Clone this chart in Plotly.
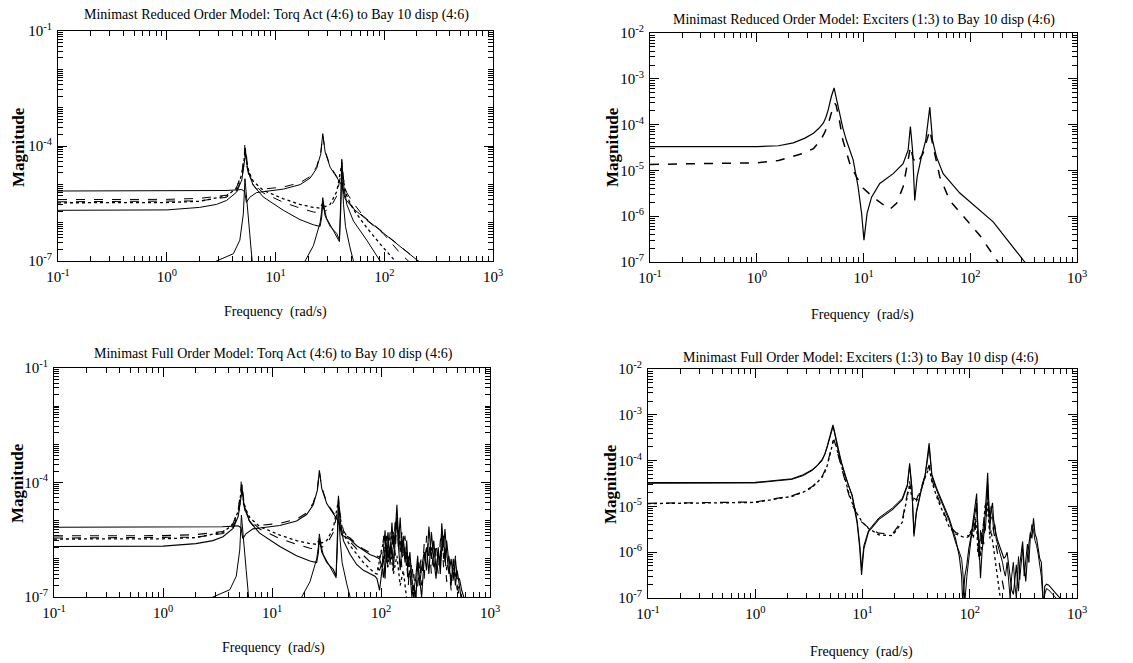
import plotly.graph_objects as go

W, H = 1133, 663

# ---------------- Torque actuator -> Bay 10 displacement (low-frequency part, both models) ----
s1_low_f = [0.1, 1.0, 3.5, 4.9, 5.2, 5.4, 5.8, 6.7, 8.3, 11.8, 16.8, 20.8, 23.9, 26.1, 27.2, 28.6, 31.8, 36.6, 40.7, 43.7]
s1_low_m = [6.7e-6, 6.7e-6, 6.9e-6, 7.3e-6, 6.5e-6, 3.4e-6, 4.6e-6, 6.1e-6, 6.6e-6, 7.5e-6, 9.8e-6, 1.45e-5, 2.6e-5, 6.3e-5, 2.1e-4, 7.0e-5, 2.8e-5, 1.45e-5, 9.5e-6, 4.2e-6]

d4_low_f = [0.1, 1.0, 2.0, 3.55, 4.4, 4.9, 5.17, 5.24, 5.42, 5.8, 6.7, 8.3, 11.8, 16.8, 20.8, 23.9, 26.1, 27.2, 28.6, 31.8, 36.6, 40.7, 43.7]
d4_low_m = [4.0e-6, 4.05e-6, 4.3e-6, 5.2e-6, 8.5e-6, 2.0e-5, 6.0e-5, 1.27e-4, 3.2e-5, 1.3e-5, 7.5e-6, 7.7e-6, 8.5e-6, 1.1e-5, 1.6e-5, 2.9e-5, 7.0e-5, 1.9e-4, 7.5e-5, 3.0e-5, 1.6e-5, 1.1e-5, 4.6e-6]

d1_low_f = [0.1, 1.0, 2.0, 3.55, 4.4, 4.9, 5.17, 5.31, 5.5, 5.8, 6.25, 7.7, 11.8, 16.8, 22.3, 25.7, 27.2, 28.6, 31.8, 36.6, 39.8, 40.7, 42.2]
d1_low_m = [3.5e-6, 3.55e-6, 3.7e-6, 4.6e-6, 7.0e-6, 1.4e-5, 4.0e-5, 9.4e-5, 3.5e-5, 1.7e-5, 1.05e-5, 6.0e-6, 3.4e-6, 2.4e-6, 1.9e-6, 1.8e-6, 2.6e-6, 2.0e-6, 2.4e-6, 5.0e-6, 1.8e-5, 3.8e-5, 1.4e-5]

d2_low_f = [0.1, 1.0, 2.0, 3.55, 4.4, 4.9, 5.17, 5.24, 5.5, 5.8, 6.25, 7.7, 11.8, 16.8, 22.3, 25.7, 27.2, 28.6, 31.8, 36.6, 39.8, 40.7, 42.2]
d2_low_m = [3.3e-6, 3.35e-6, 3.6e-6, 5.0e-6, 8.0e-6, 1.8e-5, 5.0e-5, 8.0e-5, 3.0e-5, 1.9e-5, 1.2e-5, 7.0e-6, 4.2e-6, 3.0e-6, 2.5e-6, 2.4e-6, 3.2e-6, 2.6e-6, 3.0e-6, 6.5e-6, 2.4e-5, 3.2e-5, 1.2e-5]

s2_low_f = [0.1, 1.0, 2.0, 2.87, 3.55, 4.4, 4.9, 5.17, 5.31, 5.5, 5.8, 6.25, 7.7, 11.8, 16.8, 22.3, 25.7, 26.6, 27.2, 28.6, 31.8, 36.6, 38.7, 39.8, 40.7, 42.2]
s2_low_m = [2.1e-6, 2.15e-6, 2.5e-6, 3.0e-6, 3.8e-6, 6.3e-6, 1.3e-5, 4.0e-5, 6.3e-5, 3.0e-5, 1.6e-5, 9.4e-6, 4.7e-6, 2.1e-6, 1.2e-6, 8.8e-7, 8.0e-7, 1.4e-6, 3.5e-6, 1.5e-6, 8.0e-7, 5.2e-7, 3.5e-7, 4.0e-6, 4.5e-5, 1.0e-5]

s3_f = [2.5, 2.87, 4.1, 4.7, 5.06, 5.17, 5.24, 5.31, 5.42, 5.6, 5.8, 6.1]
s3_m = [8e-8, 1e-7, 1.55e-7, 3.5e-7, 1.7e-6, 5e-6, 1.4e-5, 9e-6, 4e-6, 1.5e-6, 5e-7, 1e-7]

s4_f = [18.7, 22.3, 25.7, 26.6, 27.2, 28.2, 29.5, 31.8, 34.1, 36.6, 38.7, 39.8, 40.7, 42.2, 44.0, 48.5, 52.1, 56.0]
s4_m = [1e-7, 2.5e-7, 1.0e-6, 2.0e-6, 4.5e-6, 2.2e-6, 1.3e-6, 9e-7, 6e-7, 4.5e-7, 3.2e-7, 2e-6, 2.5e-5, 3e-6, 8e-7, 2.2e-7, 1e-7, 7e-8]

# reduced order model roll-off
s1_red_f = [52.1, 69, 91.6, 140, 200, 240]
s1_red_m = [2.3e-6, 1.2e-6, 6.2e-7, 2.3e-7, 1.0e-7, 7e-8]
d4_red_f = [52.1, 69, 91.6, 140, 200, 240]
d4_red_m = [2.4e-6, 1.25e-6, 6.4e-7, 2.4e-7, 1.05e-7, 7e-8]
d1_red_f = [45.2, 52.1, 69, 98, 140, 165, 190]
d1_red_m = [6.0e-6, 3.2e-6, 1.15e-6, 5.2e-7, 1.6e-7, 1.0e-7, 7e-8]
d2_red_f = [45.2, 52.1, 69, 91.6, 115, 130]
d2_red_m = [5.0e-6, 2.2e-6, 7.4e-7, 2.8e-7, 1.3e-7, 9e-8]
s2_red_f = [45.2, 52.1, 69, 91.6, 110]
s2_red_m = [3.0e-6, 1.1e-6, 3.5e-7, 1.0e-7, 6e-8]

# full order model: mid band and high-frequency modes
mid_f = [45.2, 52.1, 60, 69, 79, 88]
s1_mid_m = [5.0e-6, 3.2e-6, 2.2e-6, 1.7e-6, 1.3e-6, 1.15e-6]
d4_mid_m = [5.4e-6, 3.5e-6, 2.4e-6, 1.8e-6, 1.45e-6, 1.25e-6]
d1_mid_m = [5.5e-6, 2.8e-6, 1.8e-6, 1.2e-6, 8.5e-7, 6.5e-7]
d2_mid_m = [4.5e-6, 2.2e-6, 1.3e-6, 8e-7, 5.5e-7, 4.2e-7]
s2_mid_m = [3.0e-6, 1.3e-6, 7e-7, 5e-7, 4e-7, 3.5e-7]

hf_f = [92, 97, 102, 106, 109, 112, 116, 121, 126, 130, 135, 140, 145, 150, 155, 160, 166, 172,
        178, 184, 192, 200, 208, 217, 226, 236, 249, 262, 275, 290, 305, 320, 335, 350, 361, 375,
        386, 400, 420, 440, 460, 482, 500, 525, 550, 575, 600]
hf1_m = [1.1e-6, 1.0e-6, 6e-7, 2.0e-6, 5.6e-6, 8e-7, 3e-6, 1.2e-6, 9e-6, 2e-6, 5e-6, 2.6e-5, 3e-6, 1.2e-5,
         2e-6, 4e-6, 8e-7, 3e-6, 6e-7, 1.5e-6, 3e-7, 1.5e-7, 3e-7, 1.2e-6, 2e-7, 6e-7, 1.5e-6, 5e-7,
         7e-6, 1e-6, 3e-6, 5e-7, 1.5e-6, 6e-7, 8.5e-6, 2e-6, 6e-6, 1.5e-6, 4e-7, 1e-6, 3e-7, 1e-6,
         3e-7, 3e-7, 1.5e-7, 1e-7, 8e-8]
hf2_m = [1.2e-6, 1.1e-6, 1.5e-6, 4e-6, 1.5e-6, 4e-6, 8e-7, 3e-6, 4e-6, 1e-6, 1.2e-5, 6e-6, 8e-6, 1.5e-6,
         5e-6, 1e-6, 2e-6, 5e-7, 1.5e-6, 4e-7, 8e-7, 2e-7, 1e-7, 5e-7, 1e-6, 2e-7, 2.5e-6, 1.5e-6,
         3e-6, 4e-7, 2e-6, 1.2e-6, 4e-7, 3e-6, 4e-6, 6e-7, 2.5e-6, 5e-7, 1.2e-6, 3e-7, 6e-7, 4e-7,
         1.5e-7, 2e-7, 1e-7, 7e-8, 5e-8]
hf3_m = [6e-7, 5e-7, 8e-7, 2.5e-7, 3e-6, 1.5e-6, 6e-7, 5e-6, 1.5e-6, 6e-6, 1.2e-6, 1.5e-5, 1.5e-6, 4e-6,
         6e-7, 2e-6, 4e-6, 8e-7, 2e-7, 8e-7, 1.2e-7, 4e-7, 1e-7, 2e-7, 6e-7, 1.2e-6, 3e-7, 4e-6,
         1e-6, 2e-6, 6e-7, 2.5e-6, 8e-7, 1.2e-6, 6e-6, 1e-6, 1.5e-6, 2.5e-7, 6e-7, 1.5e-7, 3e-7, 1.2e-6,
         2e-7, 1e-7, 6e-8, 5e-8, 4e-8]
hf4_m = [3e-7, 1.5e-7, 5e-7, 1.2e-6, 3e-7, 2e-6, 5e-6, 7e-7, 2e-6, 5e-7, 3e-6, 1e-5, 2e-6, 5e-7,
         2e-6, 3e-6, 1e-6, 1.5e-6, 3e-7, 5e-7, 1e-7, 2e-7, 6e-8, 8e-7, 3e-7, 1e-7, 1e-6, 2e-6,
         4e-7, 5e-6, 1e-6, 3e-7, 2e-6, 4e-7, 2e-6, 4e-6, 8e-7, 3e-6, 8e-7, 2e-7, 1e-6, 2e-7,
         5e-7, 1.5e-7, 5e-8, 3e-8, 2e-8]
d2_hf_f = [92, 100, 109, 115, 121, 130, 140, 150, 160, 172]
d2_hf_m = [4e-7, 1.5e-6, 4e-6, 6e-7, 2e-6, 4e-7, 1.2e-6, 2e-7, 5e-7, 9e-8]

# ---------------- Exciters -> Bay 10 displacement, reduced order model ----------------
exr_solid_f = [0.1, 1.0, 1.6, 2.2, 2.8, 3.4, 3.8, 4.2, 4.45, 4.67, 5.0, 5.15, 5.3, 5.45, 5.6, 5.8, 6.0, 6.4, 6.9,
               7.4, 8.0, 8.9, 9.6, 10.1, 10.8, 11.9, 14.2, 19, 23.5, 26.2, 27.5, 28.8, 30.2, 31.8, 34.9, 38.3,
               40.3, 41.8, 44.3, 48.2, 55.7, 79.8, 164, 324, 400]
exr_solid_m = [3.3e-5, 3.3e-5, 3.45e-5, 4.0e-5, 5.0e-5, 6.5e-5, 8.2e-5, 1.07e-4, 1.45e-4, 2.1e-4, 4.1e-4, 5.2e-4,
               6.3e-4, 4.7e-4, 3.5e-4, 2.2e-4, 1.5e-4, 8.5e-5, 4.6e-5, 2.8e-5, 1.7e-5, 4.4e-6, 1.15e-6, 3.0e-7,
               1.15e-6, 2.6e-6, 5.2e-6, 8.5e-6, 1.4e-5, 2.8e-5, 9.1e-5, 2.8e-5, 2.2e-6, 7.2e-6, 2.0e-5, 4.6e-5,
               1.07e-4, 2.4e-4, 4.6e-5, 2.0e-5, 8.5e-6, 3.2e-6, 7.5e-7, 1.0e-7, 6e-8]
exr_dash_f = [0.1, 1.03, 1.6, 2.2, 2.8, 3.4, 3.9, 4.3, 4.65, 5.0, 5.2, 5.4, 5.55, 5.75, 6.0, 6.4, 6.9, 7.45, 8.6,
              9.9, 12.3, 15.3, 17.6, 20.4, 23.5, 26.2, 27.5, 29.2, 31.8, 36.1, 39.4, 41.8, 44.3, 51.9, 64.3,
              92, 123, 182, 220]
exr_dash_m = [1.35e-5, 1.47e-5, 1.65e-5, 2.0e-5, 2.4e-5, 3.0e-5, 4.3e-5, 6.5e-5, 1.0e-4, 1.8e-4, 2.4e-4, 2.9e-4,
              2.6e-4, 1.8e-4, 1.1e-4, 4.6e-5, 2.6e-5, 1.4e-5, 7.2e-6, 4.1e-6, 2.6e-6, 1.74e-6, 1.4e-6, 1.9e-6,
              4.4e-6, 1.7e-5, 3.3e-5, 1.8e-5, 1.4e-5, 2.35e-5, 4.6e-5, 7.6e-5, 3.9e-5, 7.2e-6, 2.2e-6, 8.1e-7,
              3.8e-7, 1.0e-7, 6e-8]

# ---------------- Exciters -> Bay 10 displacement, full order model ----------------
exf_low_f = [0.1, 1.0, 2.2, 2.8, 3.4, 3.8, 4.2, 4.45, 4.67, 5.0, 5.15, 5.3, 5.45, 5.6, 5.8, 6.0, 6.4, 6.9, 7.4,
             8.0, 8.9, 9.4, 9.8, 10.3, 11.4, 14.2, 19, 23.5, 26.2, 27.5, 28.8, 30.2, 31.8, 34.9, 38.3, 40.3,
             41.8, 44.3, 49.7, 64.5, 74, 80]
exf_a_low = [3.3e-5, 3.35e-5, 4.0e-5, 4.9e-5, 6.3e-5, 8.0e-5, 1.05e-4, 1.4e-4, 2.0e-4, 3.9e-4, 5.0e-4, 6.0e-4,
             4.6e-4, 3.4e-4, 2.2e-4, 1.5e-4, 8.5e-5, 4.6e-5, 2.8e-5, 1.7e-5, 4.4e-6, 1.3e-6, 3.2e-7, 1.2e-6,
             2.8e-6, 5.2e-6, 8.5e-6, 1.4e-5, 2.8e-5, 8.7e-5, 2.8e-5, 2.2e-6, 7.2e-6, 2.0e-5, 4.6e-5, 1.07e-4,
             2.4e-4, 5.0e-5, 2.3e-5, 5.4e-6, 1.9e-6, 8e-7]
exf_b_low = [3.2e-5, 3.25e-5, 3.9e-5, 4.7e-5, 6.1e-5, 7.7e-5, 1.0e-4, 1.35e-4, 1.9e-4, 3.6e-4, 4.6e-4, 5.4e-4,
             4.3e-4, 3.2e-4, 2.1e-4, 1.45e-4, 8.8e-5, 4.8e-5, 2.9e-5, 1.8e-5, 5.0e-6, 1.6e-6, 4.5e-7, 1.4e-6,
             3.0e-6, 5.6e-6, 9.2e-6, 1.5e-5, 3.0e-5, 7.5e-5, 2.6e-5, 2.6e-6, 7.8e-6, 2.1e-5, 4.8e-5, 1.0e-4,
             2.0e-4, 4.6e-5, 2.1e-5, 4.8e-6, 1.6e-6, 1.0e-6]
exf_c_low = [1.17e-5, 1.25e-5, 1.7e-5, 2.1e-5, 2.7e-5, 3.5e-5, 4.5e-5, 6.0e-5, 8e-5, 1.5e-4, 2.1e-4, 2.7e-4,
             2.8e-4, 2.2e-4, 1.6e-4, 1.2e-4, 6.5e-5, 3.5e-5, 1.9e-5, 1.1e-5, 6.5e-6, 5.2e-6, 4.6e-6, 4.1e-6,
             3.4e-6, 2.6e-6, 2.5e-6, 5e-6, 1.7e-5, 3.5e-5, 1.8e-5, 1.5e-5, 1.4e-5, 2.4e-5, 4.6e-5, 6.5e-5,
             8e-5, 3.9e-5, 1.7e-5, 3.8e-6, 2.7e-6, 2.5e-6]
exf_d_low = [1.15e-5, 1.22e-5, 1.65e-5, 2.05e-5, 2.6e-5, 3.3e-5, 4.3e-5, 5.6e-5, 7.5e-5, 1.4e-4, 1.9e-4, 2.5e-4,
             2.6e-4, 2.4e-4, 1.7e-4, 1.3e-4, 7e-5, 3.8e-5, 2.1e-5, 1.2e-5, 7e-6, 5.5e-6, 4.8e-6, 4.2e-6,
             3.3e-6, 2.4e-6, 2.3e-6, 4.5e-6, 1.5e-5, 3.0e-5, 1.6e-5, 1.3e-5, 1.3e-5, 2.2e-5, 4.2e-5, 6e-5,
             7e-5, 3.5e-5, 1.5e-5, 3.5e-6, 2.5e-6, 2.3e-6]

exf_hf_f = [84, 86, 88, 90, 94, 98, 103, 108, 112, 116, 119, 122, 126, 130, 135, 140, 144, 147, 150, 154,
            158, 163, 167, 171, 176, 182, 188, 195, 202, 208, 215, 223, 230, 238, 246, 255, 263, 272, 280,
            285, 292, 300, 311, 322, 333, 345, 356, 367, 380, 393, 406, 420, 435, 449, 465, 480, 490, 500,
            520, 545, 570, 600, 640, 680, 720]
exf_a_hf = [3e-7, 8e-8, 1.5e-7, 3e-7, 5.3e-7, 1.2e-6, 2.3e-6, 5e-6, 1e-5, 1.9e-5, 3e-6, 1.4e-6, 2.7e-7, 1e-6,
            2.3e-6, 8e-6, 2.5e-5, 5.4e-5, 1.5e-5, 5.4e-6, 8e-6, 1.2e-5, 5e-6, 3.2e-6, 2.5e-6, 1.8e-6, 1.4e-6,
            1.1e-6, 9e-7, 7.3e-7, 8e-7, 1e-6, 5e-7, 2.7e-7, 1.5e-7, 1.2e-7, 3e-7, 5.3e-7, 2e-7, 1.4e-7, 5e-7,
            1e-6, 1.7e-6, 5e-7, 2.3e-7, 8e-7, 1.5e-6, 2.7e-6, 2e-6, 5.5e-6, 2.5e-6, 2e-6, 1.2e-6, 7.3e-7,
            6e-7, 2e-7, 5e-8, 1.8e-7, 2.0e-7, 1.9e-7, 1.7e-7, 1.5e-7, 1.25e-7, 1.05e-7, 9e-8]
exf_b_hf = [7e-7, 4e-7, 2e-7, 8e-8, 3e-7, 8e-7, 2e-6, 4e-6, 7e-6, 1.2e-5, 4e-6, 8e-7, 3e-6, 1.5e-6, 5e-6,
            3e-6, 1e-5, 3e-5, 8e-6, 3e-6, 1e-5, 6e-6, 3e-6, 4e-6, 2e-6, 1.5e-6, 1e-6, 8e-7, 6e-7, 4e-7, 3e-7,
            6e-7, 2e-7, 1e-7, 3e-7, 6e-7, 2e-7, 1e-7, 4e-7, 8e-7, 2.5e-7, 5e-7, 1.2e-6, 3e-7, 6e-7, 1.5e-6,
            6e-7, 2e-6, 4e-6, 3e-6, 1.8e-6, 1.4e-6, 9e-7, 5e-7, 3e-7, 1e-7, 8e-8, 1.2e-7, 1.6e-7, 1.5e-7,
            1.35e-7, 1.2e-7, 1.0e-7, 8.5e-8, 7e-8]
exf_c_hf = [2.4e-6, 2.35e-6, 2.3e-6, 2.3e-6, 2.3e-6, 2.3e-6, 2.6e-6, 5e-6, 2.5e-6, 1.2e-5, 2e-6, 6e-7, 1.5e-6,
            3e-6, 1.5e-6, 5e-6, 1.5e-5, 3e-5, 1e-5, 4e-6, 6e-6, 4e-6, 2.5e-6, 1.8e-6, 1.3e-6, 9e-7, 6e-7,
            4e-7, 2.5e-7, 1.5e-7, 1e-7, 6e-8]
exf_d_hf = [2.2e-6, 2.15e-6, 2.1e-6, 2.1e-6, 2.1e-6, 2.2e-6, 3e-6, 2e-6, 6e-6, 4e-6, 1e-6, 2e-6, 8e-7, 2e-6,
            4e-6, 1.2e-5, 6e-6, 1.8e-5, 5e-6, 2e-6, 3e-6, 2e-6, 1.2e-6, 8e-7, 5e-7, 3e-7, 1.5e-7, 8e-8]

# ---------------- titles / labels / ticks ----------------
titles = [
    "Minimast Reduced Order Model: Torq Act (4:6) to Bay 10 disp (4:6)",
    "Minimast Reduced Order Model: Exciters (1:3) to Bay 10 disp (4:6)",
    "Minimast Full Order Model: Torq Act (4:6) to Bay 10 disp (4:6)",
    "Minimast Full Order Model: Exciters (1:3) to Bay 10 disp (4:6)",
]
x_label = "Frequency\u00a0\u00a0(rad/s)"
y_label = "Magnitude"
x_decades = [-1, 0, 1, 2, 3]
y_decades_left = [-7, -6, -5, -4, -3, -2, -1]
y_labeled_left = [-7, -4, -1]
y_decades_right = [-7, -6, -5, -4, -3, -2]

SERIF = "Liberation Serif, Times New Roman, serif"


def pw(e):
    return f"10<sup>{e}</sup>"


def minor_vals(lo, hi):
    vals = []
    for e in range(lo, hi):
        for k in range(2, 10):
            vals.append(k * 10.0 ** e)
    return vals


def axis_common(ticklen):
    return dict(type="log", showline=True, linecolor="black", linewidth=1, mirror="ticks",
                ticks="inside", ticklen=ticklen, tickwidth=1, tickcolor="black", showgrid=False,
                zeroline=False, automargin=False, tickmode="array",
                tickfont=dict(family=SERIF, size=15, color="black"))


fig = go.Figure()


def add(xs, ys, xa, ya, dash="solid", width=1.0):
    fig.add_trace(go.Scatter(x=xs, y=ys, mode="lines", xaxis=xa, yaxis=ya, showlegend=False,
                             hoverinfo="skip",
                             line=dict(color="black", width=width, dash=dash)))


# reduced order, torque actuators
add(s1_low_f + s1_red_f, s1_low_m + s1_red_m, "x", "y")
add(d4_low_f + d4_red_f, d4_low_m + d4_red_m, "x", "y", "dash")
add(d1_low_f + d1_red_f, d1_low_m + d1_red_m, "x", "y", "dash")
add(d2_low_f + d2_red_f, d2_low_m + d2_red_m, "x", "y", "dot", 1.3)
add(s2_low_f + s2_red_f, s2_low_m + s2_red_m, "x", "y")
add(s3_f, s3_m, "x", "y")
add(s4_f, s4_m, "x", "y")

# reduced order, exciters
add(exr_solid_f, exr_solid_m, "x2", "y2", "solid", 1.2)
add(exr_dash_f, exr_dash_m, "x2", "y2", "dash", 1.5)

# full order, torque actuators
add(s1_low_f + mid_f[1:] + hf_f, s1_low_m + s1_mid_m[1:] + hf1_m, "x3", "y3", "solid", 1.1)
add(d4_low_f + mid_f[1:] + hf_f, d4_low_m + d4_mid_m[1:] + hf2_m, "x3", "y3", "dash", 1.1)
add(d1_low_f + mid_f + hf_f, d1_low_m + d1_mid_m + hf3_m, "x3", "y3", "dash", 1.1)
add(d2_low_f + mid_f + d2_hf_f, d2_low_m + d2_mid_m + d2_hf_m, "x3", "y3", "dot", 1.3)
add(s2_low_f + mid_f + hf_f, s2_low_m + s2_mid_m + hf4_m, "x3", "y3", "solid", 1.1)
add(s3_f, s3_m, "x3", "y3")
add(s4_f, s4_m, "x3", "y3")

# full order, exciters
add(exf_low_f + exf_hf_f, exf_a_low + exf_a_hf, "x4", "y4", "solid", 1.1)
add(exf_low_f + exf_hf_f, exf_b_low + exf_b_hf, "x4", "y4")
add(exf_low_f + exf_hf_f[:len(exf_c_hf)], exf_c_low + exf_c_hf, "x4", "y4", "dash", 1.2)
add(exf_low_f + exf_hf_f[:len(exf_d_hf)], exf_d_low + exf_d_hf, "x4", "y4", "dot", 1.3)

# panel frames in pixels: left, top, right, bottom
boxes = [(58, 31, 493, 261), (650, 33, 1077, 262), (54, 368, 490, 597), (648, 369, 1077, 598)]


def fx(x):
    return x / W


def fy(y):
    return 1 - y / H


layout = dict(width=W, height=H, margin=dict(l=0, r=0, t=0, b=0), paper_bgcolor="white",
              plot_bgcolor="white", showlegend=False)
for i, (l, t, r, b) in enumerate(boxes):
    n = i + 1
    sfx = "" if n == 1 else str(n)
    xa, ya = "x" + sfx, "y" + sfx
    xdom, ydom = [fx(l), fx(r)], [fy(b), fy(t)]
    left_panel = (i % 2 == 0)
    top = -1 if left_panel else -2
    y_major = y_labeled_left if left_panel else y_decades_right
    y_minor = minor_vals(-7, top)
    if left_panel:
        y_minor += [10.0 ** e for e in y_decades_left if e not in y_labeled_left]

    # labelled (major) ticks
    ax = axis_common(9)
    ax.update(domain=xdom, anchor=ya, range=[-1, 3], ticklabelstandoff=2,
              tickvals=[10.0 ** e for e in x_decades], ticktext=[pw(e) for e in x_decades])
    layout["xaxis" + sfx] = ax
    ay = axis_common(9)
    ay.update(domain=ydom, anchor=xa, range=[-7, top], ticklabelstandoff=2,
              tickvals=[10.0 ** e for e in y_major], ticktext=[pw(e) for e in y_major])
    layout["yaxis" + sfx] = ay

    # unlabelled minor ticks on overlaid axes
    mx, my = str(n + 4), str(n + 4)
    oxa = axis_common(5)
    oxa.update(domain=xdom, anchor=ya, overlaying=xa, range=[-1, 3], showticklabels=False,
               tickvals=minor_vals(-1, 3))
    layout["xaxis" + mx] = oxa
    oya = axis_common(5)
    oya.update(domain=ydom, anchor=xa, overlaying=ya, side="left", range=[-7, top],
               showticklabels=False, tickvals=y_minor)
    layout["yaxis" + my] = oya
    fig.add_trace(go.Scatter(x=[], y=[], xaxis="x" + mx, yaxis=ya, showlegend=False, hoverinfo="skip"))
    fig.add_trace(go.Scatter(x=[], y=[], xaxis=xa, yaxis="y" + my, showlegend=False, hoverinfo="skip"))

fig.update_layout(**layout)

# titles, axis labels
title_pos = [(276, 15), (864, 20), (273, 354), (861, 358)]
xlabel_pos = [(275, 312), (862, 315), (273, 648), (861, 652)]
ylabel_pos = [(18, 147), (612, 147), (17, 483), (610, 484)]
for i in range(4):
    tx, ty = title_pos[i]
    fig.add_annotation(x=fx(tx), y=fy(ty), xref="paper", yref="paper", text=titles[i],
                       showarrow=False, xanchor="center", yanchor="middle",
                       font=dict(family=SERIF, size=14, color="black"))
    lx, ly = xlabel_pos[i]
    fig.add_annotation(x=fx(lx), y=fy(ly), xref="paper", yref="paper", text=x_label,
                       showarrow=False, xanchor="center", yanchor="middle",
                       font=dict(family=SERIF, size=14, color="black"))
    mx_, my_ = ylabel_pos[i]
    fig.add_annotation(x=fx(mx_), y=fy(my_), xref="paper", yref="paper", text="<b>" + y_label + "</b>",
                       showarrow=False, xanchor="center", yanchor="middle", textangle=-90,
                       font=dict(family=SERIF, size=17, color="black"))

fig.write_html("out.html", config={"displayModeBar": False})
